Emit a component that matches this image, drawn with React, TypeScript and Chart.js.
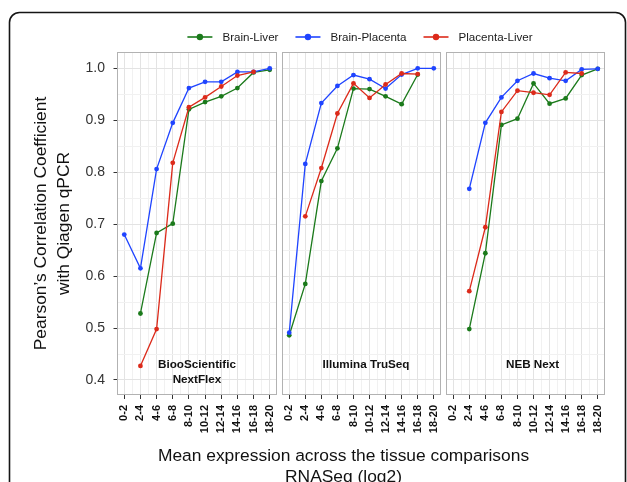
import React, { useEffect, useRef } from 'react';
import { Chart, registerables } from 'chart.js';

Chart.register(...registerables);

// ---------- data ----------
const categories = ['0-2', '2-4', '4-6', '6-8', '8-10', '10-12', '12-14', '14-16', '16-18', '18-20'];
const seriesNames = ['Brain-Liver', 'Brain-Placenta', 'Placenta-Liver'];
const seriesColors = ['#1b7a1b', '#1f44ff', '#dc2a1a'];

const biooBrainLiver = [null, 0.528, 0.683, 0.701, 0.921, 0.935, 0.946, 0.962, 0.992, 0.997];
const biooBrainPlacenta = [0.68, 0.615, 0.806, 0.895, 0.962, 0.974, 0.974, 0.993, 0.993, 1.0];
const biooPlacentaLiver = [null, 0.427, 0.498, 0.818, 0.925, 0.944, 0.965, 0.986, 0.993, null];

const illuminaBrainLiver = [0.486, 0.585, 0.783, 0.846, 0.961, 0.96, 0.946, 0.931, 0.988, null];
const illuminaBrainPlacenta = [0.491, 0.816, 0.933, 0.966, 0.987, 0.979, 0.961, 0.988, 1.0, 1.0];
const illuminaPlacentaLiver = [null, 0.715, 0.808, 0.913, 0.971, 0.943, 0.969, 0.99, 0.989, null];

const nebBrainLiver = [null, 0.498, 0.644, 0.891, 0.903, 0.971, 0.932, 0.942, 0.987, 0.999];
const nebBrainPlacenta = [null, 0.768, 0.895, 0.944, 0.976, 0.99, 0.981, 0.976, 0.998, 0.999];
const nebPlacentaLiver = [null, 0.571, 0.694, 0.916, 0.957, 0.953, 0.949, 0.992, 0.99, null];

const panelLabels = [['BiooScientific', 'NextFlex'], ['Illumina TruSeq'], ['NEB Next']];
const yTickValues = [0.4, 0.45, 0.5, 0.55, 0.6, 0.65, 0.7, 0.75, 0.8, 0.85, 0.9, 0.95, 1.0];
const yMajorValues = [0.4, 0.5, 0.6, 0.7, 0.8, 0.9, 1.0];
const xTickValues = [0, 0.5, 1, 1.5, 2, 2.5, 3, 3.5, 4, 4.5, 5, 5.5, 6, 6.5, 7, 7.5, 8, 8.5, 9];
const yTitle = ["Pearson\u2019s Correlation Coefficient", 'with Qiagen qPCR'];
const xTitle = ['Mean expression across the tissue comparisons', 'RNASeq (log2)'];

const panels = [
  { label: panelLabels[0], series: [biooBrainLiver, biooBrainPlacenta, biooPlacentaLiver], labelX: 4.5 },
  { label: panelLabels[1], series: [illuminaBrainLiver, illuminaBrainPlacenta, illuminaPlacentaLiver], labelX: 4.78 },
  { label: panelLabels[2], series: [nebBrainLiver, nebBrainPlacenta, nebPlacentaLiver], labelX: 4.94 },
];

// ---------- layout / style ----------
const W = 627;
const H = 482;
const FONT = "'Liberation Sans', Arial, Helvetica, sans-serif";
const PLOT_TOP = 52;
const PLOT_BOTTOM = 395;
const PANEL_LEFT = [117, 282, 446];
const PANEL_RIGHT = [277, 441, 605];
const X_AXIS_H = 45;
const MAJOR = '#e3e3e3';
const MINOR = '#f1f1f1';
const LABEL_TOP_VALUE = 0.429;

const isMajorY = (v: number) => yMajorValues.some((m) => Math.abs(m - v) < 1e-6);

function panelPlugin(p: number) {
  return {
    id: 'panelDecor' + p,
    afterDatasetsDraw(chart: any) {
      const ctx = chart.ctx;
      const xs = chart.scales.x;
      const ys = chart.scales.y;
      const lines = panels[p].label;
      ctx.save();
      ctx.font = `bold 11.7px ${FONT}`;
      ctx.fillStyle = '#111';
      ctx.textAlign = 'center';
      ctx.textBaseline = 'middle';
      const cx = xs.getPixelForValue(panels[p].labelX);
      const y0 = ys.getPixelForValue(LABEL_TOP_VALUE);
      lines.forEach((t: string, i: number) => ctx.fillText(t, cx, y0 + i * 14.5));
      ctx.restore();
    },
    afterDraw(chart: any) {
      const a = chart.chartArea;
      const ctx = chart.ctx;
      ctx.save();
      ctx.strokeStyle = '#b2b2b2';
      ctx.lineWidth = 1;
      ctx.strokeRect(a.left + 0.5, a.top + 0.5, a.right - a.left - 1, a.bottom - a.top - 1);
      ctx.restore();
    },
  };
}

const figurePlugin = {
  id: 'figureDecor',
  beforeDraw(chart: any) {
    const ctx = chart.ctx;
    ctx.save();
    ctx.fillStyle = '#fff';
    ctx.fillRect(0, 0, W, H);
    // rounded frame
    const x = 9.5, y = 12.5, w = 616, h = 640, r = 10;
    ctx.beginPath();
    ctx.moveTo(x + r, y);
    ctx.lineTo(x + w - r, y);
    ctx.arcTo(x + w, y, x + w, y + r, r);
    ctx.lineTo(x + w, y + h);
    ctx.lineTo(x, y + h);
    ctx.lineTo(x, y + r);
    ctx.arcTo(x, y, x + r, y, r);
    ctx.closePath();
    ctx.strokeStyle = '#151515';
    ctx.lineWidth = 1.6;
    ctx.stroke();
    ctx.restore();
  },
  afterDraw(chart: any) {
    const ctx = chart.ctx;
    ctx.save();
    // legend
    ctx.font = `11.6px ${FONT}`;
    const widths = seriesNames.map((n) => ctx.measureText(n).width);
    const lineW = 25, gapText = 10, gapItem = 17;
    const total = widths.reduce((acc, wd) => acc + lineW + gapText + wd, 0) + gapItem * (seriesNames.length - 1);
    let lx = 360 - total / 2;
    const ly = 37;
    seriesNames.forEach((name, i) => {
      ctx.strokeStyle = seriesColors[i];
      ctx.lineWidth = 1.6;
      ctx.beginPath();
      ctx.moveTo(lx, ly);
      ctx.lineTo(lx + lineW, ly);
      ctx.stroke();
      ctx.fillStyle = seriesColors[i];
      ctx.beginPath();
      ctx.arc(lx + lineW / 2, ly, 3.2, 0, Math.PI * 2);
      ctx.fill();
      ctx.fillStyle = '#1a1a1a';
      ctx.textAlign = 'left';
      ctx.textBaseline = 'middle';
      ctx.fillText(name, lx + lineW + gapText, ly + 0.5);
      lx += lineW + gapText + widths[i] + gapItem;
    });
    // x title
    ctx.font = `17.4px ${FONT}`;
    ctx.fillStyle = '#111';
    ctx.textAlign = 'center';
    ctx.textBaseline = 'middle';
    xTitle.forEach((t, i) => ctx.fillText(t, 343.5, 456 + i * 21));
    ctx.restore();
  },
};

function buildConfig(p: number): any {
  const panel = panels[p];
  const first = p === 0;
  const datasets = panel.series.map((vals, s) => ({
    label: seriesNames[s],
    data: vals
      .map((v, i) => (v === null ? null : { x: i, y: v }))
      .filter((d) => d !== null),
    borderColor: seriesColors[s],
    backgroundColor: seriesColors[s],
    borderWidth: 1.3,
    pointRadius: 2.4,
    pointBorderWidth: 0,
    pointBackgroundColor: seriesColors[s],
    tension: 0,
    order: 3 - s,
  }));

  return {
    type: 'line',
    data: { datasets },
    options: {
      responsive: false,
      animation: false,
      devicePixelRatio: 1,
      layout: {
        padding: {
          left: first ? 0 : PANEL_LEFT[p],
          right: W - PANEL_RIGHT[p],
          top: PLOT_TOP,
          bottom: H - PLOT_BOTTOM - X_AXIS_H,
        },
      },
      plugins: {
        legend: { display: false },
        tooltip: { enabled: false },
        title: { display: false },
      },
      scales: {
        x: {
          type: 'linear',
          min: -0.45,
          max: 9.45,
          afterBuildTicks: (s: any) => {
            s.ticks = xTickValues.map((v) => ({ value: v }));
          },
          afterFit: (s: any) => {
            s.height = X_AXIS_H;
          },
          ticks: {
            autoSkip: false,
            minRotation: 90,
            maxRotation: 90,
            padding: 6,
            color: '#111',
            font: { family: FONT, size: 11, weight: 'bold' },
            callback: (v: number) => (Number.isInteger(v) ? categories[v] : ''),
          },
          grid: {
            color: (c: any) => (c.tick && Number.isInteger(c.tick.value) ? MAJOR : MINOR),
            tickColor: (c: any) => (c.tick && Number.isInteger(c.tick.value) ? '#333' : 'rgba(0,0,0,0)'),
            tickLength: 4,
            lineWidth: 1,
          },
          border: { display: false },
        },
        y: {
          type: 'linear',
          min: 0.3711,
          max: 1.0314,
          afterBuildTicks: (s: any) => {
            s.ticks = yTickValues.map((v) => ({ value: v }));
          },
          afterFit: (s: any) => {
            s.width = first ? PANEL_LEFT[0] : 0;
          },
          ticks: {
            display: first,
            padding: 8.5,
            color: '#333',
            font: { family: FONT, size: 14 },
            callback: (v: number) => (isMajorY(v) ? v.toFixed(1) : ''),
          },
          grid: {
            color: (c: any) => (c.tick && isMajorY(c.tick.value) ? MAJOR : MINOR),
            tickColor: (c: any) => (c.tick && isMajorY(c.tick.value) ? '#333' : 'rgba(0,0,0,0)'),
            tickLength: 3.5,
            drawTicks: first,
            lineWidth: 1,
          },
          border: { display: false },
          title: first
            ? {
                display: true,
                text: yTitle,
                color: '#111',
                font: { family: FONT, size: 17.4, lineHeight: 1.3 },
                padding: { top: 30, bottom: 0 },
              }
            : { display: false },
        },
      },
    },
    plugins: first ? [figurePlugin, panelPlugin(p)] : [panelPlugin(p)],
  };
}

export default function App() {
  const r0 = useRef<HTMLCanvasElement>(null);
  const r1 = useRef<HTMLCanvasElement>(null);
  const r2 = useRef<HTMLCanvasElement>(null);
  const refs = [r0, r1, r2];

  useEffect(() => {
    const charts = refs.map((r, i) => new Chart(r.current as HTMLCanvasElement, buildConfig(i)));
    return () => charts.forEach((c) => c.destroy());
  }, []);

  return (
    <div style={{ position: 'fixed', left: 0, top: 0, width: W, height: H, background: '#fff', overflow: 'hidden' }}>
      {refs.map((r, i) => (
        <canvas
          key={i}
          ref={r}
          width={W}
          height={H}
          style={{ position: 'absolute', left: 0, top: 0, width: W, height: H }}
        />
      ))}
    </div>
  );
}
